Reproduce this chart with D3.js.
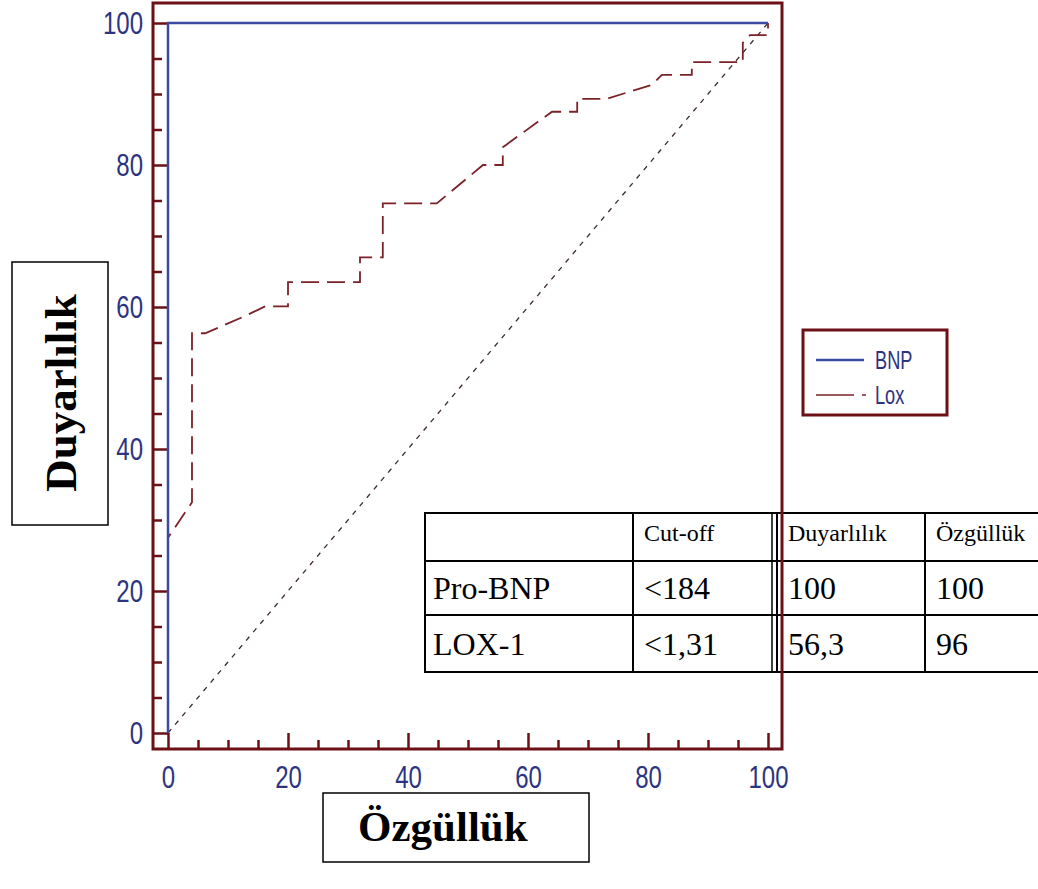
<!DOCTYPE html>
<html>
<head>
<meta charset="utf-8">
<script src="https://cdn.jsdelivr.net/npm/d3@7"></script>
<style>
  body { margin: 0; background: #fff; }
</style>
</head>
<body>
<div id="chart"></div>
<script>
// ROC data (x = 100 - specificity, y = sensitivity)
const bnpX = [0, 0, 100];
const bnpY = [0, 100, 100];
const loxX = [0, 0, 4, 4, 6.2, 12.5, 16.2, 20, 20, 32, 32, 35.8, 35.8, 44.8, 52.5, 55.8, 55.8, 62, 64, 68.2, 68.2, 73, 80.7, 82.3, 87.3, 87.3, 95.8, 95.8, 97, 100, 100];
const loxY = [0, 27.5, 32.5, 56.3, 56.3, 58.6, 60.1, 60.1, 63.5, 63.5, 67, 67, 74.6, 74.6, 80, 80, 82.5, 86.3, 87.5, 87.5, 89.3, 89.3, 91.3, 92.7, 92.7, 94.5, 94.5, 97.2, 98.3, 98.3, 100];
const refX = [0, 100];
const refY = [0, 100];
const majorTicks = [0, 20, 40, 60, 80, 100];
const minorTicks = d3.range(0, 101, 5).filter(d => d % 20 !== 0);
const legendLabels = ["BNP", "Lox"];
const tableHeader = ["", "Cut-off", "Duyarlılık", "Özgüllük"];
const tableRows = [
  ["Pro-BNP", "<184", "100", "100"],
  ["LOX-1", "<1,31", "56,3", "96"]
];

const width = 1038, height = 889;
const frameCol = "#6d1016", blue = "#3b4a9e", navy = "#2c3482", loxCol = "#7b2228";
const sans = "'Liberation Sans', Arial, sans-serif";
const serif = "'Liberation Serif', 'Times New Roman', serif";

const svg = d3.select("#chart").append("svg")
  .attr("width", width).attr("height", height)
  .style("background", "#fff");

const x = d3.scaleLinear().domain([0, 100]).range([168, 768]);
const y = d3.scaleLinear().domain([0, 100]).range([733, 23]);

const fL = x(0) - 15, fR = x(100) + 14, fT = y(100) - 20, fB = y(0) + 16;

// ticks sit inside the frame
const yMinor = svg.append("g").attr("transform", `translate(${fL},0)`)
  .call(d3.axisLeft(y).tickValues(minorTicks).tickSize(-9).tickFormat(""));
const yMajor = svg.append("g").attr("transform", `translate(${fL},0)`)
  .call(d3.axisLeft(y).tickValues(majorTicks).tickSize(-15).tickPadding(10));
const xMinor = svg.append("g").attr("transform", `translate(0,${fB})`)
  .call(d3.axisBottom(x).tickValues(minorTicks).tickSize(-9).tickFormat(""));
const xMajor = svg.append("g").attr("transform", `translate(0,${fB})`)
  .call(d3.axisBottom(x).tickValues(majorTicks).tickSize(-16).tickPadding(16));

[yMinor, yMajor, xMinor, xMajor].forEach(g => {
  g.select(".domain").remove();
  g.selectAll(".tick line").attr("stroke", frameCol).attr("stroke-width", 2.5);
  g.selectAll(".tick text")
    .attr("fill", navy).attr("font-size", 32).attr("font-family", sans)
    .each(function () {
      // narrow look of the original labels
      const t = d3.select(this);
      const tx = +t.attr("x") || 0;
      t.attr("x", 0).attr("transform", `translate(${tx},0) scale(0.75,1)`);
    });
});

const line = d3.line().x(d => x(d[0])).y(d => y(d[1]));

// diagonal reference
svg.append("path")
  .attr("d", line(d3.zip(refX, refY)))
  .attr("fill", "none").attr("stroke", "#3d2a2a").attr("stroke-width", 1.3)
  .attr("stroke-dasharray", "5,6");

// Lox
svg.append("path")
  .attr("d", line(d3.zip(loxX, loxY)))
  .attr("fill", "none").attr("stroke", loxCol).attr("stroke-width", 1.8)
  .attr("stroke-dasharray", "18,8");

// BNP
svg.append("path")
  .attr("d", line(d3.zip(bnpX, bnpY)))
  .attr("fill", "none").attr("stroke", blue).attr("stroke-width", 2.5);

// legend
const lg = svg.append("g");
lg.append("rect").attr("x", 803).attr("y", 330).attr("width", 144).attr("height", 85)
  .attr("fill", "#fff").attr("stroke", frameCol).attr("stroke-width", 3);
lg.append("line").attr("x1", 816).attr("x2", 864).attr("y1", 360).attr("y2", 360)
  .attr("stroke", blue).attr("stroke-width", 2.5);
lg.append("line").attr("x1", 816).attr("x2", 866).attr("y1", 395).attr("y2", 395)
  .attr("stroke", loxCol).attr("stroke-width", 1.5).attr("stroke-dasharray", "38,8");
lg.selectAll("text").data(legendLabels).join("text")
  .attr("transform", (d, i) => `translate(875,${360 + i * 35}) scale(0.7,1)`)
  .attr("dy", "0.36em")
  .attr("fill", navy).attr("font-size", 26).attr("font-family", sans)
  .text(d => d);

// table
const colX = [425, 633, 777, 925, 1045];
const rowY = [513, 561, 615, 672];
const tg = svg.append("g");
tg.append("rect").attr("x", colX[0]).attr("y", rowY[0])
  .attr("width", colX[4] - colX[0]).attr("height", rowY[3] - rowY[0])
  .attr("fill", "#fff").attr("stroke", "#000").attr("stroke-width", 2);
rowY.slice(1, 3).forEach(r => tg.append("line").attr("x1", colX[0]).attr("x2", colX[4])
  .attr("y1", r).attr("y2", r).attr("stroke", "#000").attr("stroke-width", 2));
colX.slice(1, 4).forEach(c => tg.append("line").attr("x1", c).attr("x2", c)
  .attr("y1", rowY[0]).attr("y2", rowY[3]).attr("stroke", "#000").attr("stroke-width", 2));
tg.append("line").attr("x1", 772).attr("x2", 772).attr("y1", rowY[0]).attr("y2", rowY[3])
  .attr("stroke", "#000").attr("stroke-width", 1.5);
const cellText = [tableHeader, ...tableRows];
cellText.forEach((row, ri) => {
  row.forEach((t, ci) => {
    tg.append("text")
      .attr("x", colX[ci] + (ci === 0 ? 8 : 11))
      .attr("y", (rowY[ri] + rowY[ri + 1]) / 2 + (ri === 0 ? -4 : 0))
      .attr("dy", "0.35em")
      .attr("font-family", serif)
      .attr("font-size", ri === 0 ? 24 : 32)
      .text(t);
  });
});

// frame drawn over the table, like the source
svg.append("rect").attr("x", fL).attr("y", fT).attr("width", fR - fL).attr("height", fB - fT)
  .attr("fill", "none").attr("stroke", frameCol).attr("stroke-width", 3);

// axis title boxes
svg.append("rect").attr("x", 12).attr("y", 262).attr("width", 96).attr("height", 263)
  .attr("fill", "#fff").attr("stroke", "#000").attr("stroke-width", 1.5);
svg.append("text")
  .attr("transform", "translate(60,393) rotate(-90)")
  .attr("text-anchor", "middle").attr("dy", "0.35em")
  .attr("font-family", serif)
  .attr("font-weight", "bold").attr("font-size", 45)
  .text("Duyarlılık");

svg.append("rect").attr("x", 323).attr("y", 793).attr("width", 266).attr("height", 69)
  .attr("fill", "#fff").attr("stroke", "#000").attr("stroke-width", 1.5);
svg.append("text")
  .attr("x", 358).attr("y", 841)
  .attr("font-family", serif)
  .attr("font-weight", "bold").attr("font-size", 43)
  .text("Özgüllük");
</script>
</body>
</html>
